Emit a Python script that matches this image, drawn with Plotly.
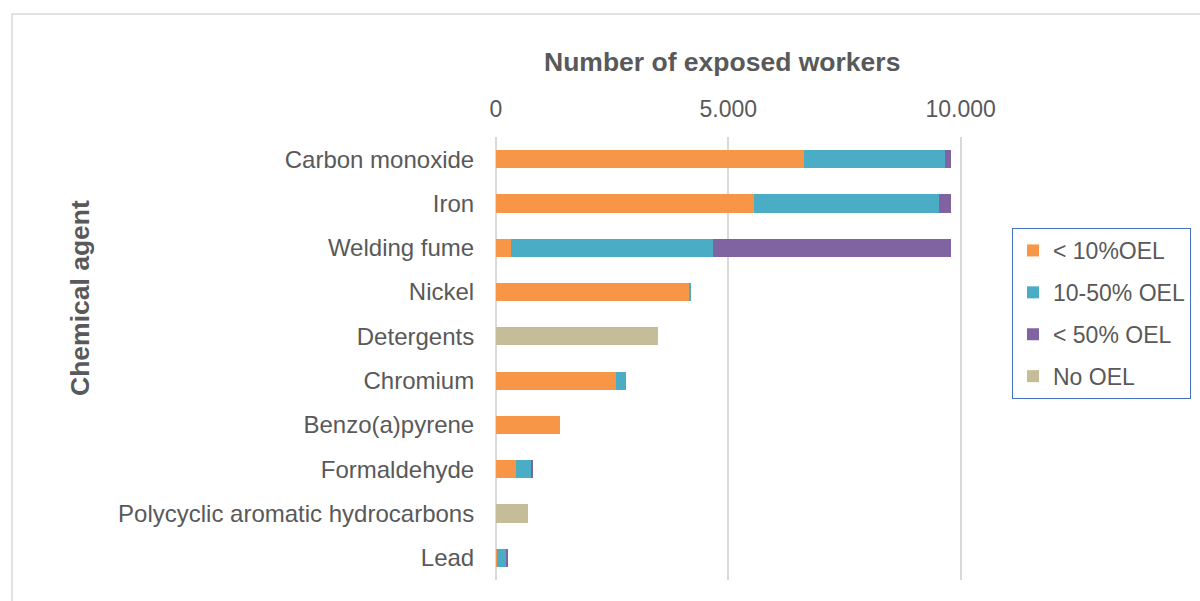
"""Stacked horizontal bar chart of exposed workers per chemical agent."""

import plotly.graph_objects as go

# Categories top-to-bottom
agents = [
    "Carbon monoxide", "Iron", "Welding fume", "Nickel", "Detergents",
    "Chromium", "Benzo(a)pyrene", "Formaldehyde",
    "Polycyclic aromatic hydrocarbons", "Lead",
]
below_10 = [6620, 5560, 330, 4170, 0, 2580, 1380, 420, 0, 20]
between_10_50 = [3050, 3980, 4350, 15, 0, 215, 0, 340, 0, 185]
above_50 = [130, 260, 5120, 0, 0, 0, 0, 20, 0, 60]
no_oel = [0, 0, 0, 0, 3490, 0, 0, 0, 685, 0]

series = [
    ("&lt; 10%OEL", below_10, "#F79646"),
    ("10-50% OEL", between_10_50, "#4BACC6"),
    ("&lt; 50% OEL", above_50, "#8064A2"),
    ("No OEL", no_oel, "#C4BD97"),
]

x_ticks = [0, 5000, 10000]
x_tick_text = ["0", "5.000", "10.000"]
x_max = 10030  # a bit past 10.000 so its gridline is drawn

FONT = "Liberation Sans, Arial, sans-serif"
GREY = "#595959"

fig = go.Figure()
for i, (name, vals, color) in enumerate(series):
    fig.add_trace(go.Bar(
        y=agents, x=vals,
        orientation="h",
        name=name,
        legendgroup=f"g{i}",
        marker=dict(color=color, line=dict(width=0)),
    ))

# plot area in pixels: x 496-961 (0..10.000), y 137-580
L, T, B = 496, 137, 21
PW = round(465 * x_max / 10000)
R = 1200 - L - PW
PH = 601 - T - B


def px_x(p):
    return (p - L) / PW


def px_y(p):
    return (601 - B - p) / PH


fig.update_layout(
    width=1200, height=601,
    margin=dict(l=L, r=R, t=T, b=B),
    barmode="stack",
    bargap=0.59,
    plot_bgcolor="white",
    paper_bgcolor="white",
    font=dict(family=FONT, size=23, color=GREY),
    legend=dict(
        xref="container", yref="container",
        x=1012 / 1200, y=1 - 228 / 601,
        xanchor="left", yanchor="top",
        bordercolor="#4472C4", borderwidth=1,
        font=dict(size=23, color=GREY),
        traceorder="grouped",
        tracegroupgap=9,
        itemwidth=30,
    ),
    xaxis=dict(
        side="top",
        range=[0, x_max],
        tickvals=x_ticks, ticktext=x_tick_text,
        showgrid=True, gridcolor="#D9D9D9", gridwidth=1.5,
        zeroline=True, zerolinecolor="#D9D9D9", zerolinewidth=1.5,
        showline=False,
        ticks="outside", ticklen=10, tickcolor="rgba(0,0,0,0)",
    ),
    yaxis=dict(
        range=[9.5, -0.5],
        showgrid=False, zeroline=False, showline=False,
        tickfont=dict(size=24),
        ticks="outside", ticklen=16, tickcolor="rgba(0,0,0,0)",
    ),
    annotations=[
        dict(text="<b>Number of exposed workers</b>", xref="paper", yref="paper",
             x=px_x(722), y=px_y(62), xanchor="center", yanchor="middle",
             showarrow=False, font=dict(size=26.5, color=GREY)),
        dict(text="<b>Chemical agent</b>", xref="paper", yref="paper",
             x=px_x(80), y=px_y(298), xanchor="center", yanchor="middle",
             showarrow=False, textangle=-90, font=dict(size=26.5, color=GREY)),
    ],
    shapes=[
        dict(type="rect", xref="paper", yref="paper",
             x0=px_x(12), x1=px_x(1215), y0=px_y(615), y1=px_y(14),
             line=dict(color="#D9D9D9", width=1.5), layer="below"),
    ],
)

fig.write_html(
    "out.html",
    config={"responsive": False, "displayModeBar": False},
    post_script="document.body.style.margin='0px';",
)
